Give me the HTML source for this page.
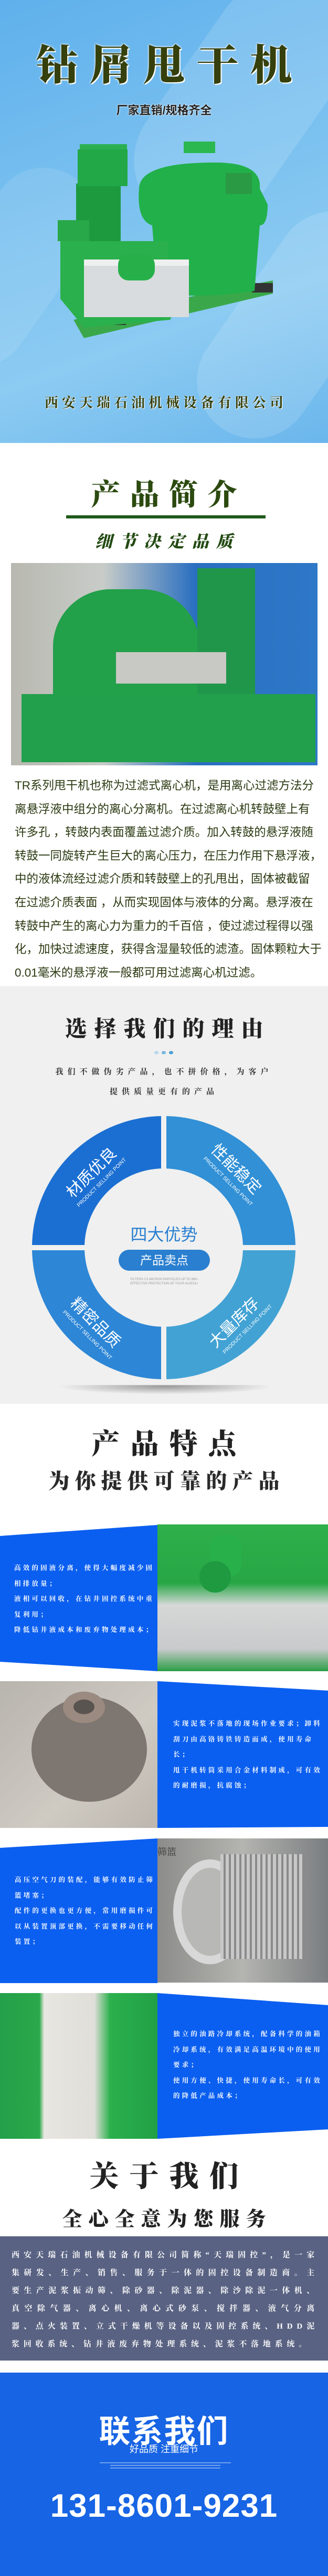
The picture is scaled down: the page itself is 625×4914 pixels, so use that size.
<!DOCTYPE html>
<html><head><meta charset="utf-8">
<style>
*{margin:0;padding:0;box-sizing:border-box}
body{width:625px;height:4914px;position:relative;overflow:hidden;background:#fff;font-family:"Liberation Sans","Noto Sans CJK SC",sans-serif}
.a{position:absolute}
.c{left:0;width:625px;text-align:center;white-space:nowrap}
.serif{font-family:"Liberation Serif","Noto Serif CJK SC",serif}
.bt{color:#fff;font-size:12.5px;letter-spacing:4.2px;line-height:29.5px;font-family:"Liberation Serif","Noto Serif CJK SC",serif;font-weight:bold}
.rl{position:absolute;white-space:nowrap;color:#fff;transform-origin:center}
</style></head><body>

<!-- HERO -->
<div class="a" style="left:0;top:0;width:625px;height:845px;background:linear-gradient(160deg,#5fb0ec 0%,#7cc2f0 45%,#8ccbf2 70%,#6ab6ec 100%);overflow:hidden">
  <div class="a" style="left:330px;top:-60px;width:260px;height:520px;border-radius:130px;background:rgba(255,255,255,.14);transform:rotate(35deg)"></div>
  <div class="a" style="left:450px;top:380px;width:220px;height:480px;border-radius:110px;background:rgba(255,255,255,.14);transform:rotate(35deg)"></div>
  <div class="a" style="left:-80px;top:300px;width:200px;height:420px;border-radius:100px;background:rgba(255,255,255,.1);transform:rotate(35deg)"></div>
  <div class="a c serif" style="top:60px;font-size:80px;font-weight:900;color:#36400c;letter-spacing:22px;padding-left:22px;text-shadow:0 0 3px #fff,0 0 3px #fff,2px 2px 0 #fff">钻屑甩干机</div>
  <div class="a c" style="top:193px;font-size:22px;font-weight:bold;color:#222;text-shadow:0 0 2px #fff,0 0 2px #fff">厂家直销/规格齐全</div>
  <svg class="a" style="left:100px;top:270px" width="430" height="400" viewBox="0 0 430 400">
    <polygon points="40,340 420,265 420,290 60,375" fill="#3aa84a"/>
    <rect x="60" y="330" width="80" height="20" fill="#333"/>
    <rect x="380" y="270" width="40" height="18" fill="#333"/>
    <path d="M165,90 Q165,40 310,40 Q400,40 395,90 L410,120 Q410,160 395,160 L385,285 Q290,300 200,290 L190,160 Q160,150 165,90Z" fill="#22b04a"/>
    <rect x="250" y="0" width="60" height="22" fill="#2bb850"/>
    <rect x="330" y="60" width="50" height="40" fill="#2a9a45"/>
    <rect x="45" y="80" width="85" height="120" fill="#1e9a3e"/>
    <rect x="52" y="5" width="90" height="10" fill="#2ab050"/>
    <rect x="48" y="15" width="95" height="70" fill="#22a846"/>
    <rect x="10" y="150" width="60" height="40" fill="#28a848"/>
    <polygon points="15,190 220,190 225,340 60,355 15,300" fill="#2ab04c"/>
    <rect x="60" y="225" width="200" height="110" fill="#d8dcde"/>
    <rect x="60" y="225" width="200" height="12" fill="#eef0f0"/>
    <rect x="125" y="215" width="70" height="50" rx="20" fill="#27b04a"/>
  </svg>
  <div class="a c serif" style="top:748px;font-size:26px;font-weight:bold;color:#36400c;letter-spacing:7px;padding-left:7px;text-shadow:0 0 2px #fff,1px 1px 0 #fff">西安天瑞石油机械设备有限公司</div>
</div>

<!-- PRODUCT INTRO -->
<div class="a c serif" style="top:900px;font-size:56px;font-weight:900;color:#2c4a10;letter-spacing:18px;padding-left:18px">产品简介</div>
<div class="a" style="left:126px;top:983px;width:380px;height:6px;background:#1f5a1a"></div>
<div class="a c serif" style="top:1008px;font-size:32px;font-weight:900;color:#234a12;letter-spacing:14px;padding-left:14px;font-style:italic">细节决定品质</div>
<div class="a" style="left:21px;top:1074px;width:584px;height:386px;background:linear-gradient(90deg,#b8b8b0 0%,#c8ccc8 30%,#2a6fc0 60%,#2e78c8 100%);overflow:hidden">
  <div class="a" style="left:80px;top:50px;width:280px;height:320px;background:#23a04a;border-radius:110px 110px 0 0"></div>
  <div class="a" style="left:355px;top:10px;width:110px;height:250px;background:#20964a"></div>
  <div class="a" style="left:20px;top:250px;width:560px;height:130px;background:#22a04c"></div>
  <div class="a" style="left:200px;top:170px;width:210px;height:60px;background:#c8c8c4"></div>
</div>
<div class="a" style="left:28px;top:1477px;width:600px;font-size:22.5px;line-height:44.6px;color:#2b3a12;white-space:nowrap">TR系列甩干机也称为过滤式离心机，是用离心过滤方法分<br>离悬浮液中组分的离心分离机。在过滤离心机转鼓壁上有<br>许多孔 ，转鼓内表面覆盖过滤介质。加入转鼓的悬浮液随<br>转鼓一同旋转产生巨大的离心压力，在压力作用下悬浮液，<br>中的液体流经过滤介质和转鼓壁上的孔甩出，固体被截留<br>在过滤介质表面 ，从而实现固体与液体的分离。悬浮液在<br>转鼓中产生的离心力为重力的千百倍 ，使过滤过程得以强<br>化，加快过滤速度，获得含湿量较低的滤渣。固体颗粒大于<br>0.01毫米的悬浮液一般都可用过滤离心机过滤。</div>

<!-- REASONS -->
<div class="a" style="left:0;top:1881px;width:625px;height:797px;background:#eff0ef"></div>
<div class="a c serif" style="top:1930px;font-size:42px;font-weight:900;color:#222;letter-spacing:14px;padding-left:14px">选择我们的理由</div>
<div class="a" style="left:294px;top:2005px;width:8px;height:6px;border-radius:3px;background:#b8d8ee"></div>
<div class="a" style="left:308px;top:2005px;width:8px;height:6px;border-radius:3px;background:#7ab8e0"></div>
<div class="a" style="left:322px;top:2005px;width:8px;height:6px;border-radius:3px;background:#4aa0d8"></div>
<div class="a c serif" style="top:2026px;font-size:15px;font-weight:bold;color:#333;letter-spacing:8px;line-height:38px">我们不做伪劣产品，也不拼价格，为客户<br>提供质量更有的产品</div>
<div class="a" style="left:110px;top:2630px;width:410px;height:30px;border-radius:50%;background:radial-gradient(ellipse,rgba(0,0,0,.35),rgba(0,0,0,0) 70%)"></div>
<svg class="a" style="left:0;top:0" width="625" height="2700" viewBox="0 0 625 2700">
  <defs>
    <mask id="m"><rect width="625" height="2700" fill="#fff"/><circle cx="312" cy="2380" r="151" fill="#000"/>
    <rect x="307" y="2100" width="10" height="560" fill="#000"/><rect x="40" y="2375" width="560" height="10" fill="#000"/></mask>
  </defs>
  <g mask="url(#m)">
    <rect x="60" y="2128" width="252" height="252" fill="#1b6fd2"/>
    <rect x="312" y="2128" width="252" height="252" fill="#3190d6"/>
    <rect x="60" y="2380" width="252" height="252" fill="#2d86d6"/>
    <rect x="312" y="2380" width="252" height="252" fill="#42a2d4"/>
  </g>
</svg>
<svg class="a" style="left:50px;top:2118px" width="524" height="524" viewBox="0 0 524 524">
  <path d="M0,0 H524 V524 H0Z M262,11 A251,251 0 1,0 262.01,11Z" fill="#eff0ef" fill-rule="evenodd"/>
</svg>
<div class="rl" style="left:172px;top:2235px;font-size:30px;transform:translate(-50%,-50%) rotate(-45deg)">材质优良</div>
<div class="rl" style="left:194px;top:2256px;font-size:10px;transform:translate(-50%,-50%) rotate(-45deg)">PRODUCT SELLING POINT</div>
<div class="rl" style="left:452px;top:2228px;font-size:30px;transform:translate(-50%,-50%) rotate(45deg)">性能稳定</div>
<div class="rl" style="left:434px;top:2254px;font-size:10px;transform:translate(-50%,-50%) rotate(45deg)">PRODUCT SELLING POINT</div>
<div class="rl" style="left:184px;top:2521px;font-size:30px;transform:translate(-50%,-50%) rotate(45deg)">精密品质</div>
<div class="rl" style="left:166px;top:2547px;font-size:10px;transform:translate(-50%,-50%) rotate(45deg)">PRODUCT SELLING POINT</div>
<div class="rl" style="left:444px;top:2521px;font-size:30px;transform:translate(-50%,-50%) rotate(-45deg)">大量库存</div>
<div class="rl" style="left:472px;top:2536px;font-size:10px;transform:translate(-50%,-50%) rotate(-45deg)">PRODUCT SELLING POINT</div>
<div class="a c" style="top:2330px;font-size:32px;color:#2a7fd0">四大优势</div>
<div class="a" style="left:226px;top:2384px;width:174px;height:40px;border-radius:20px;background:#2a7fd0;color:#fff;font-size:23px;line-height:40px;text-align:center">产品卖点</div>
<div class="a c" style="top:2437px;font-size:6px;color:#999;line-height:8px">FILTERS 0.5 MICRON PARTICLES UP TO 98%<br>EFFECTIVE PROTECTION OF YOUR ALVEOLI</div>

<!-- FEATURES -->
<div class="a c serif" style="top:2712px;font-size:54px;font-weight:900;color:#222;letter-spacing:20px;padding-left:20px">产品特点</div>
<div class="a c serif" style="top:2794px;font-size:40px;font-weight:900;color:#2a2a2a;letter-spacing:10px;padding-left:10px">为你提供可靠的产品</div>

<svg class="a" style="left:0;top:2905px" width="625" height="290"><polygon points="0,25 300,4 300,283 0,265" fill="#0b5ff0"/></svg>
<div class="a" style="left:300px;top:2908px;width:325px;height:280px;background:linear-gradient(180deg,#2fb04a 0%,#27a646 40%,#d6d8d8 55%,#c8cacb 85%,#2a9e44 100%);overflow:hidden">
  <div class="a" style="left:100px;top:20px;width:60px;height:80px;border-radius:25px;background:#28b04a"></div>
  <div class="a" style="left:80px;top:70px;width:60px;height:60px;border-radius:30px;background:#1f9a40"></div>
</div>
<div class="a bt" style="left:27px;top:2977px;width:275px">高效的固液分离，使得大幅度减少固相排放量；<br>液相可以回收，在钻井固控系统中重复利用；<br>降低钻井液成本和废弃物处理成本；</div>

<div class="a" style="left:0;top:3207px;width:300px;height:280px;background:linear-gradient(135deg,#b8b4ae,#cfcac2 60%,#bcb6ae);overflow:hidden">
  <div class="a" style="left:60px;top:30px;width:220px;height:200px;border-radius:50%;background:#7e7670"></div>
  <div class="a" style="left:120px;top:20px;width:80px;height:60px;border-radius:50%;background:#9a8a80"></div>
  <div class="a" style="left:140px;top:35px;width:40px;height:28px;border-radius:50%;background:#5a5450"></div>
</div>
<svg class="a" style="left:300px;top:3205px" width="325" height="285"><polygon points="0,2 325,20 325,280 0,282" fill="#0b5ff0"/></svg>
<div class="a bt" style="left:330px;top:3274px;width:290px">实现泥浆不落地的现场作业要求；卸料刮刀由高铬铸铁铸造而成，使用寿命长；<br>甩干机转筒采用合金材料制成，可有效的耐磨损，抗腐蚀；</div>

<svg class="a" style="left:0;top:3505px" width="300" height="280"><polygon points="0,20 300,2 300,278 0,278" fill="#0b5ff0"/></svg>
<div class="a" style="left:300px;top:3507px;width:325px;height:275px;background:linear-gradient(90deg,#8c8c8a,#b4b4b0 50%,#7a7e80);overflow:hidden">
  <div class="a" style="left:30px;top:40px;width:140px;height:200px;border-radius:50%;border:16px solid #d8d8d8;background:#b8b8b6"></div>
  <div class="a" style="left:120px;top:30px;width:160px;height:200px;background:repeating-linear-gradient(90deg,#c8c8c8 0 6px,#8a8a8a 6px 10px)"></div>
  <div class="a" style="left:0;top:12px;font-size:18px;color:#333;font-family:'Liberation Serif','Noto Serif CJK SC',serif">筛篮</div>
</div>
<div class="a bt" style="left:28px;top:3572px;width:272px">高压空气刀的装配，能够有效防止筛篮堵塞；<br>配件的更换也更方便，常用磨损件可以从装置顶部更换，不需要移动任何装置；</div>

<div class="a" style="left:0;top:3802px;width:300px;height:278px;background:linear-gradient(90deg,#23a04a 0%,#2aa84a 25%,#e8e6e0 28%,#e0ded8 60%,#2ab04c 70%,#22a046 100%)"></div>
<svg class="a" style="left:300px;top:3800px" width="325" height="282"><polygon points="0,2 325,25 325,262 0,280" fill="#0b5ff0"/></svg>
<div class="a bt" style="left:330px;top:3866px;width:290px">独立的油路冷却系统，配备科学的油箱冷却系统，有效满足高温环境中的使用要求；<br>使用方便、快捷，使用寿命长，可有效的降低产品成本；</div>

<!-- ABOUT -->
<div class="a c serif" style="top:4108px;font-size:56px;font-weight:900;color:#222;letter-spacing:20px;padding-left:20px">关于我们</div>
<div class="a c serif" style="top:4202px;font-size:38px;font-weight:900;color:#222;letter-spacing:12px;padding-left:12px">全心全意为您服务</div>
<div class="a" style="left:0;top:4266px;width:625px;height:237px;background:#596282"></div>
<div class="a serif" style="left:22px;top:4285px;width:585px;color:#fff;font-size:15px;font-weight:bold;line-height:34px;letter-spacing:7.8px;text-align:justify">西安天瑞石油机械设备有限公司简称“天瑞固控”，是一家集研发、生产、销售、服务于一体的固控设备制造商。主要生产泥浆振动筛、除砂器、除泥器、除沙除泥一体机、真空除气器、离心机、离心式砂泵、搅拌器、液气分离器、点火装置、立式干燥机等设备以及固控系统、HDD泥浆回收系统、钻井液废弃物处理系统、泥浆不落地系统。</div>

<!-- CONTACT -->
<div class="a" style="left:0;top:4526px;width:625px;height:388px;background:#1764e4"></div>
<div class="a c" style="top:4590px;font-size:60px;font-weight:bold;color:#fff;letter-spacing:2px">联系我们</div>
<div class="a c" style="top:4658px;font-size:18px;color:#fff">好品质 注重细节</div>
<div class="a" style="left:190px;top:4697px;width:250px;height:2px;background:rgba(255,255,255,.4)"></div>
<div class="a" style="left:210px;top:4702px;width:210px;height:2px;background:rgba(255,255,255,.4)"></div>
<div class="a" style="left:210px;top:4707px;width:210px;height:2px;background:rgba(255,255,255,.4)"></div>
<div class="a c" style="top:4745px;font-size:62px;font-weight:bold;color:#fff;letter-spacing:1px">131-8601-9231</div>
</body></html>
